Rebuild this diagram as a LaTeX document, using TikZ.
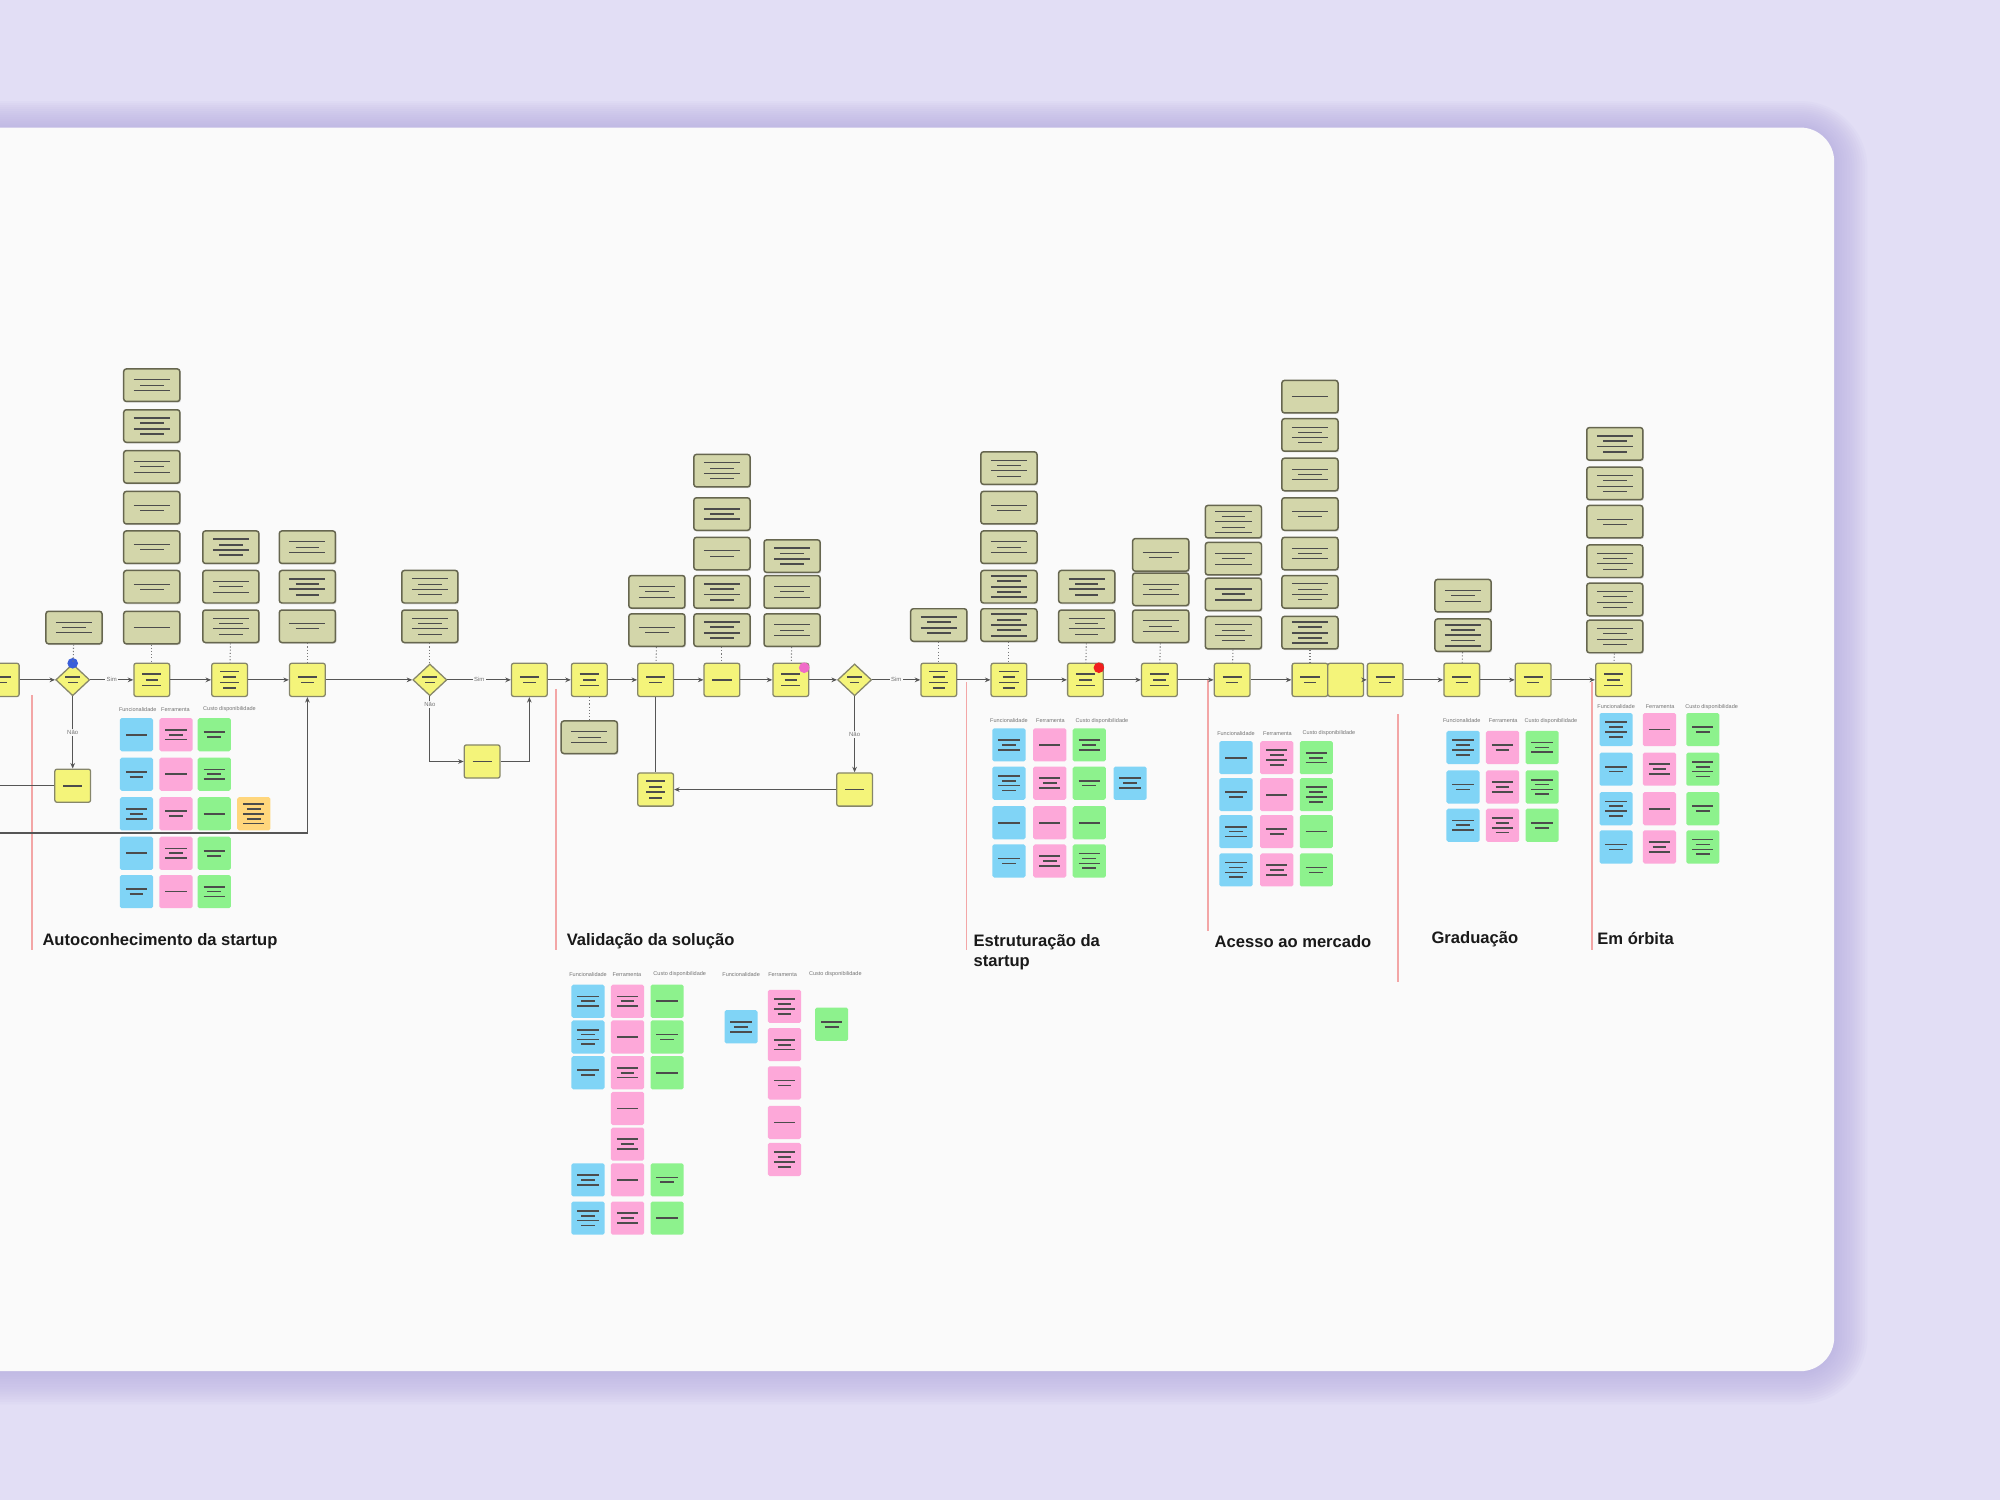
\documentclass[tikz,border=0pt]{standalone}
\usepackage{fontspec}
\setmainfont{Liberation Sans}
\usepackage{tikz}
\usetikzlibrary{arrows.meta, positioning, calc, shapes.geometric, shadows}
\definecolor{lavbg}{HTML}{E2DEF5}
\definecolor{lavshadow}{HTML}{B4AADF}
\definecolor{cardbg}{HTML}{FAFAFA}
\definecolor{taskyel}{HTML}{F4F47A}
\definecolor{taskedge}{HTML}{86866A}
\definecolor{noteol}{HTML}{D3D6AA}
\definecolor{noteedge}{HTML}{66664F}
\definecolor{stblue}{HTML}{80D4F6}
\definecolor{stpink}{HTML}{FDA8D9}
\definecolor{stgreen}{HTML}{8DF28D}
\definecolor{storange}{HTML}{FFD67C}
\definecolor{phasered}{HTML}{F3A6A6}
\definecolor{flowgray}{HTML}{555555}
\definecolor{dotblue}{HTML}{3A5FD9}
\definecolor{dotpink}{HTML}{F06BC8}
\definecolor{dotred}{HTML}{F01E1E}

\begin{document}
\begin{tikzpicture}[
  x=0.6pt, y=-0.6pt,
  bars/.style n args={4}{path picture={
    \foreach \k in {1,...,#1}
      \draw[draw=black!70, line width=#3]
        ($(path picture bounding box.center)+({-(#2-mod(\k+1,2)*#2*0.35)/2},{((#1+1)/2-\k)*#4})$)
        -- ++({#2-mod(\k+1,2)*#2*0.35},0pt);
  }},
  taskbox/.style={rectangle, rounded corners=1pt, minimum width=16.8pt,
    minimum height=15.6pt, inner sep=0pt, fill=taskyel, draw=taskedge, line width=0.6pt},
  task/.style={taskbox, bars={#1}{9pt}{0.8pt}{2.6pt}},
  task/.default=2,
  gate/.style={diamond, minimum width=16pt, minimum height=15pt, inner sep=0pt,
    fill=taskyel, draw=taskedge, line width=0.6pt, bars={2}{7pt}{0.8pt}{2.4pt}},
  note/.style 2 args={rectangle, rounded corners=1.2pt, minimum width=26.4pt,
    minimum height=15.3pt, inner sep=0pt, fill=noteol, draw=noteedge, line width=0.7pt,
    drop shadow={shadow xshift=0.5pt, shadow yshift=-0.6pt, opacity=0.25},
    bars={#1}{17pt}{#2}{2.5pt}},
  sticky/.style 2 args={rectangle, rounded corners=0.8pt, minimum size=15.6pt,
    inner sep=0pt, fill=#1, bars={#2}{10pt}{0.8pt}{2.3pt}},
  flow/.style={draw=flowgray, line width=0.6pt, -{Stealth[length=2.6pt,width=2.2pt]}},
  plain/.style={draw=flowgray, line width=0.6pt},
  link/.style={draw=flowgray!80, line width=0.5pt, densely dotted},
  yesno/.style={font=\fontsize{2.8}{3}\selectfont, text=black!55, fill=cardbg, inner sep=0.6pt},
  colhead/.style={font=\fontsize{2.6}{3}\selectfont, text=black!55, inner sep=0pt, anchor=west},
  title/.style={font=\fontsize{7.8}{9.6}\selectfont\bfseries, text=black!90,
    anchor=west, inner sep=0pt},
  dot/.style={circle, fill=#1, minimum size=5pt, inner sep=0pt}
]
  \useasboundingbox (0,0) rectangle (1568,1176);
  \clip (0,0) rectangle (1568,1176);

  % Backdrop and card
  \fill[lavbg] (0,0) rectangle (1568,1176);
  \foreach \s in {26,24,...,2}
    \fill[lavshadow, opacity=0.07, rounded corners={(16+\s*0.6)*1pt}]
      (-60,{100-\s*0.8}) rectangle ({1438+\s},{1075+\s});
  \fill[cardbg, rounded corners=16pt] (-60,100) rectangle (1438,1075);

  % Phase separators
  \foreach \x/\a/\b in {25/545/745, 436/540/745, 758/535/745, 947/533/730,
      1096/560/770, 1248/535/745}
    \draw[draw=phasered, line width=0.6pt] (\x,\a) -- (\x,\b);

  % Main flow
  \foreach \n/\x/\l in {t0/1/2, t1/119/3, t2/180/4, t3/241/2, t4/415/2, t5/462/3,
      t6/514/2, t7/566/1, t8/620/3, t9/736/4, t10/791/4, t11/851/3, t12/909/3,
      t13/966/2, t14/1027/2, t16/1086/2, t17/1146/2, t18/1202/2, t19/1265/3}
    \node[task=\l] (\n) at (\x,533) {};
  \node[taskbox] (t15) at (1055,533) {};
  \foreach \n/\x in {d1/57, d2/337, d3/670}
    \node[gate] (\n) at (\x,533) {};

  % Side branches
  \node[task=1] (b1) at (57,616) {};
  \node[task=1] (b2) at (378,597) {};
  \node[task=4] (b3) at (514,619) {};
  \node[task=1] (b4) at (670,619) {};
  \coordinate (c1) at (-10,616);
  \coordinate (c2) at (-10,653);

  % Markers
  \node[dot=dotblue] (m1) at (d1.north) {};
  \node[dot=dotpink] (m2) at ([xshift=-2.4pt,yshift=-2.4pt]t8.north east) {};
  \node[dot=dotred] (m3) at ([xshift=-2.4pt,yshift=-2.4pt]t11.north east) {};

  % Connections
  \foreach \a/\b in {t0/d1, t1/t2, t2/t3, t3/d2, t4/t5, t5/t6, t6/t7, t7/t8, t8/d3,
      t9/t10, t10/t11, t11/t12, t12/t13, t13/t14, t15/t16, t16/t17, t17/t18, t18/t19}
    \draw[flow] (\a) -- (\b);
  \foreach \a/\b in {d1/t1, d2/t4, d3/t9}
    \draw[flow] (\a) -- node[yesno] {Sim} (\b);
  \draw[flow] (d1) -- node[yesno] {Não} (b1);
  \draw[plain] (b1) -- (c1);
  \draw[flow] (c2) -| (t3);
  \draw[flow] (d2) |- node[yesno, pos=0.06] {Não} (b2);
  \draw[flow] (b2) -| (t4);
  \draw[plain] (t6) -- (b3);
  \draw[flow] (d3) -- node[yesno] {Não} (b4);
  \draw[flow] (b4) -- (b3);

  % Note stacks
  \node[note={3}{0.45pt}] (nd1) at (58,492) {};
  \draw[link] (nd1) -- (d1);
  \foreach \y/\n/\w [count=\i] in {302/3/0.45pt, 334/4/0.9pt, 366/3/0.45pt,
      398/2/0.45pt, 429/2/0.45pt, 460/2/0.45pt, 492/1/0.45pt}
    \node[note={\n}{\w}] (na\i) at (119,\y) {};
  \draw[link] (na7) -- (t1);
  \foreach \y/\n/\w [count=\i] in {429/4/0.9pt, 460/3/0.45pt, 491/4/0.45pt}
    \node[note={\n}{\w}] (nb\i) at (181,\y) {};
  \draw[link] (nb3) -- (t2);
  \foreach \y/\n/\w [count=\i] in {429/3/0.45pt, 460/4/0.9pt, 491/2/0.45pt}
    \node[note={\n}{\w}] (nc\i) at (241,\y) {};
  \draw[link] (nc3) -- (t3);
  \foreach \y [count=\i] in {460,491}
    \node[note={4}{0.45pt}] (ne\i) at (337,\y) {};
  \draw[link] (ne2) -- (d2);
  \node[note={3}{0.45pt}] (nf1) at (462,578) {};
  \draw[link] (t5) -- (nf1);
  \foreach \y/\n [count=\i] in {464/3, 494/2}
    \node[note={\n}{0.45pt}] (ng\i) at (515,\y) {};
  \draw[link] (ng2) -- (t6);
  \foreach \y/\n/\w [count=\i] in {369/4/0.45pt, 403/3/0.9pt, 434/2/0.45pt,
      464/4/0.9pt, 494/4/0.9pt}
    \node[note={\n}{\w}] (nh\i) at (566,\y) {};
  \draw[link] (nh5) -- (t7);
  \foreach \y/\n/\w [count=\i] in {436/4/0.9pt, 464/3/0.45pt, 494/3/0.45pt}
    \node[note={\n}{\w}] (ni\i) at (621,\y) {};
  \draw[link] (ni3) -- (t8);
  \node[note={4}{0.9pt}] (nj1) at (736,490) {};
  \draw[link] (nj1) -- (t9);
  \foreach \y/\n/\w [count=\i] in {367/4/0.45pt, 398/2/0.45pt, 429/3/0.45pt,
      460/5/0.9pt, 490/5/0.9pt}
    \node[note={\n}{\w}] (nk\i) at (791,\y) {};
  \draw[link] (nk5) -- (t10);
  \foreach \y/\n/\w [count=\i] in {460/4/0.9pt, 491/4/0.45pt}
    \node[note={\n}{\w}] (nl\i) at (852,\y) {};
  \draw[link] (nl2) -- (t11);
  \foreach \y/\n [count=\i] in {435/2, 462/3, 491/3}
    \node[note={\n}{0.45pt}] (nm\i) at (910,\y) {};
  \draw[link] (nm3) -- (t12);
  \foreach \y/\n/\w [count=\i] in {409/5/0.45pt, 438/3/0.45pt, 466/3/0.9pt, 496/4/0.45pt}
    \node[note={\n}{\w}] (nn\i) at (967,\y) {};
  \draw[link] (nn4) -- (t13);
  \foreach \y/\n/\w [count=\i] in {311/1/0.45pt, 341/4/0.45pt, 372/3/0.45pt,
      403/2/0.45pt, 434/3/0.45pt, 464/4/0.45pt, 496/5/0.9pt}
    \node[note={\n}{\w}] (no\i) at (1027,\y) {};
  \draw[link] (no7) -- (t14);
  \foreach \y/\n/\w [count=\i] in {467/3/0.45pt, 498/5/0.9pt}
    \node[note={\n}{\w}] (np\i) at (1147,\y) {};
  \draw[link] (np2) -- (t17);
  \foreach \y/\n/\w [count=\i] in {348/4/0.9pt, 379/4/0.45pt, 409/2/0.45pt,
      440/4/0.45pt, 470/4/0.45pt, 499/4/0.45pt}
    \node[note={\n}{\w}] (nq\i) at (1266,\y) {};
  \draw[link] (nq6) -- (t19);

  % Sticky grids
  \foreach \x/\h [count=\j] in {93/Funcionalidade, 126/Ferramenta, 159/Custo disponibilidade}
    \node[colhead] (ha\j) at (\x,556) {\h};
  \foreach \x/\cl [count=\j] in {107/stblue, 138/stpink, 168/stgreen}
    \foreach \y [count=\i] in {576,607,638,669,699} {
      \pgfmathtruncatemacro\nl{1+mod(\i+2*\j,3)}
      \node[sticky={\cl}{\nl}] (sa\j-\i) at (\x,\y) {};
    }
  \node[sticky={storange}{5}] (sa4-3) at (199,638) {};

  \foreach \x/\h [count=\j] in {446/Funcionalidade, 480/Ferramenta, 512/Custo disponibilidade,
      566/Funcionalidade, 602/Ferramenta, 634/Custo disponibilidade}
    \node[colhead] (hb\j) at (\x,764) {\h};
  \foreach \y [count=\i] in {785,813,841,925,955} {
    \pgfmathtruncatemacro\nl{2+mod(\i,3)}
    \node[sticky={stblue}{\nl}] (sb1-\i) at (461,\y) {};
    \pgfmathtruncatemacro\nl{1+mod(\i+1,2)}
    \node[sticky={stgreen}{\nl}] (sb3-\i) at (523,\y) {};
  }
  \foreach \y [count=\i] in {785,813,841,869,897,925,955} {
    \pgfmathtruncatemacro\nl{1+mod(\i*2,4)}
    \node[sticky={stpink}{\nl}] (sb2-\i) at (492,\y) {};
  }
  \node[sticky={stblue}{3}] (sc1-1) at (581,805) {};
  \foreach \y [count=\i] in {789,819,849,880,909} {
    \pgfmathtruncatemacro\nl{1+mod(\i*3,4)}
    \node[sticky={stpink}{\nl}] (sc2-\i) at (615,\y) {};
  }
  \node[sticky={stgreen}{2}] (sc3-1) at (652,803) {};

  \foreach \x/\h [count=\j] in {776/Funcionalidade, 812/Ferramenta, 843/Custo disponibilidade}
    \node[colhead] (hd\j) at (\x,565) {\h};
  \foreach \x/\cl [count=\j] in {791/stblue, 823/stpink, 854/stgreen}
    \foreach \y [count=\i] in {584,614,645,675} {
      \pgfmathtruncatemacro\nl{1+mod(\i*\j+\j,4)}
      \node[sticky={\cl}{\nl}] (sd\j-\i) at (\x,\y) {};
    }
  \node[sticky={stblue}{3}] (sd4-2) at (886,614) {};

  \foreach \x/\h [count=\j] in {954/Funcionalidade, 990/Ferramenta, 1021/Custo disponibilidade}
    \node[colhead] (he\j) at (\x,575) {\h};
  \foreach \x/\cl [count=\j] in {969/stblue, 1001/stpink, 1032/stgreen}
    \foreach \y [count=\i] in {594,623,652,682} {
      \pgfmathtruncatemacro\nl{1+mod(\i+\j*3,4)}
      \node[sticky={\cl}{\nl}] (se\j-\i) at (\x,\y) {};
    }

  \foreach \x/\h [count=\j] in {1131/Funcionalidade, 1167/Ferramenta, 1195/Custo disponibilidade}
    \node[colhead] (hf\j) at (\x,565) {\h};
  \foreach \x/\cl [count=\j] in {1147/stblue, 1178/stpink, 1209/stgreen}
    \foreach \y [count=\i] in {586,617,647} {
      \pgfmathtruncatemacro\nl{2+mod(\i+\j,3)}
      \node[sticky={\cl}{\nl}] (sf\j-\i) at (\x,\y) {};
    }

  \foreach \x/\h [count=\j] in {1252/Funcionalidade, 1290/Ferramenta, 1321/Custo disponibilidade}
    \node[colhead] (hg\j) at (\x,554) {\h};
  \foreach \x/\cl [count=\j] in {1267/stblue, 1301/stpink, 1335/stgreen}
    \foreach \y [count=\i] in {572,603,634,664} {
      \pgfmathtruncatemacro\nl{1+mod(\i*2+\j,4)}
      \node[sticky={\cl}{\nl}] (sg\j-\i) at (\x,\y) {};
    }

  % Phase titles
  \node[title] (ph1) at (33,738) {Autoconhecimento da startup};
  \node[title] (ph2) at (444,738) {Validação da solução};
  \node[title, anchor=north west, align=left] (ph3) at (763,732) {Estruturação da\\startup};
  \node[title] (ph4) at (952,738) {Acesso ao mercado};
  \node[title] (ph5) at (1122,736) {Graduação};
  \node[title] (ph6) at (1252,736) {Em órbita};
\end{tikzpicture}
\end{document}
